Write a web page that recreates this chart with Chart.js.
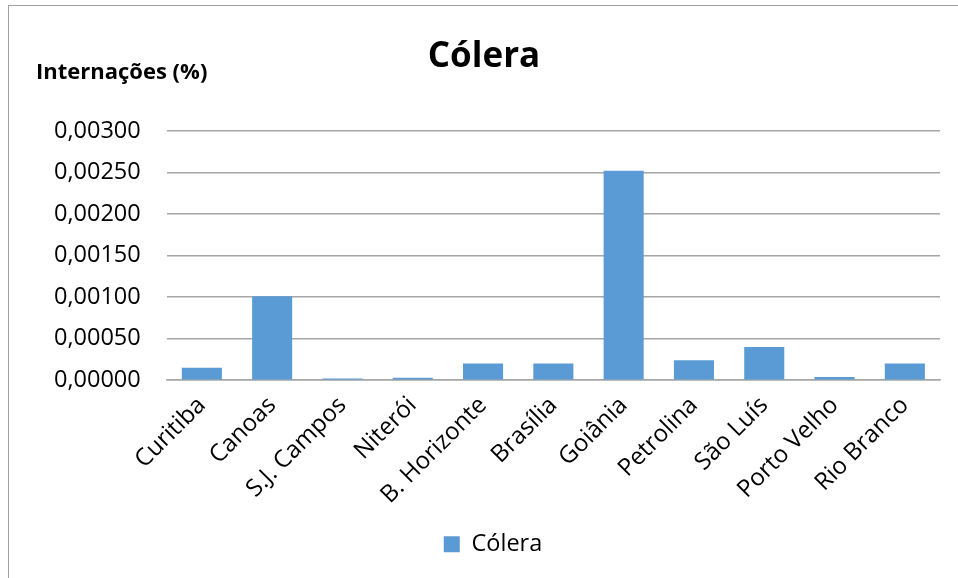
<!DOCTYPE html>
<html lang="pt-BR">
<head>
  <meta charset="UTF-8" />
  <title>Cólera</title>
  <style>
    html, body { margin: 0; padding: 0; background: #fff; overflow: hidden; }
    .moldura {
      position: absolute;
      left: 8px; top: 5px;
      width: 1000px; height: 1000px;
      border: 1.5px solid #a0a0a0;
    }
    .caixa {
      position: absolute;
      left: 0; top: 0;
      width: 958px; height: 578px;
    }
  </style>
</head>
<body>
  <div class="moldura"></div>
  <div class="caixa"><canvas id="grafico"></canvas></div>

  <script src="https://cdn.jsdelivr.net/npm/chart.js"></script>
  <script>
    const cidades = ['Curitiba', 'Canoas', 'S.J. Campos', 'Niterói', 'B. Horizonte', 'Brasília',
                     'Goiânia', 'Petrolina', 'São Luís', 'Porto Velho', 'Rio Branco'];
    const internacoes = [0.00015, 0.00101, 0.00002, 0.00003, 0.00020, 0.00020,
                         0.00252, 0.00024, 0.00040, 0.00004, 0.00020];
    const tituloGrafico = 'Cólera';
    const tituloEixoY = 'Internações (%)';
    const nomeSerie = 'Cólera';

    const fonte = '"Open Sans", Lato, sans-serif';

    // rótulo do eixo Y na horizontal, no canto de cima
    const rotuloEixo = {
      id: 'rotuloEixo',
      afterLayout(chart) {
        // legenda um pouco mais à direita, como no original
        chart.legend.left += 9;
        chart.legend.right += 9;
      },
      afterDraw(chart) {
        const ctx = chart.ctx;
        ctx.save();
        ctx.font = 'bold 22px ' + fonte;
        ctx.fillStyle = '#000';
        ctx.textBaseline = 'middle';
        ctx.textAlign = 'left';
        ctx.fillText(tituloEixoY, 36, 73);
        ctx.restore();
      }
    };

    new Chart(document.getElementById('grafico'), {
      type: 'bar',
      data: {
        labels: cidades,
        datasets: [{
          label: nomeSerie,
          data: internacoes,
          backgroundColor: '#5B9BD5',
          barPercentage: 0.57,
          categoryPercentage: 1
        }]
      },
      options: {
        responsive: true,
        maintainAspectRatio: false,
        animation: false,
        layout: { padding: { left: 28, right: 18, top: 10, bottom: 12 } },
        plugins: {
          title: {
            display: true,
            text: tituloGrafico,
            color: '#000',
            font: { family: fonte, size: 35, weight: 'bold' },
            padding: { top: 26, bottom: 53 }
          },
          legend: {
            position: 'bottom',
            labels: {
              color: '#000',
              font: { family: fonte, size: 23.5 },
              boxWidth: 16,
              boxHeight: 16,
              padding: 12
            }
          },
          tooltip: { enabled: false }
        },
        scales: {
          x: {
            grid: { display: false },
            border: { color: '#a6a6a6', width: 1.5 },
            ticks: {
              color: '#000',
              font: { family: fonte, size: 24 },
              minRotation: 45,
              maxRotation: 45,
              autoSkip: false
            },
            // espaço extra entre os rótulos e a legenda
            afterFit(escala) { escala.height += 8; }
          },
          y: {
            min: 0,
            max: 0.003,
            grid: { color: '#a6a6a6', lineWidth: 1.5, drawTicks: false },
            border: { display: false },
            ticks: {
              stepSize: 0.0005,
              color: '#000',
              padding: 26,
              font: { family: fonte, size: 23.5 },
              callback: v => v.toFixed(5).replace('.', ',')
            }
          }
        }
      },
      plugins: [rotuloEixo]
    });
  </script>
</body>
</html>
